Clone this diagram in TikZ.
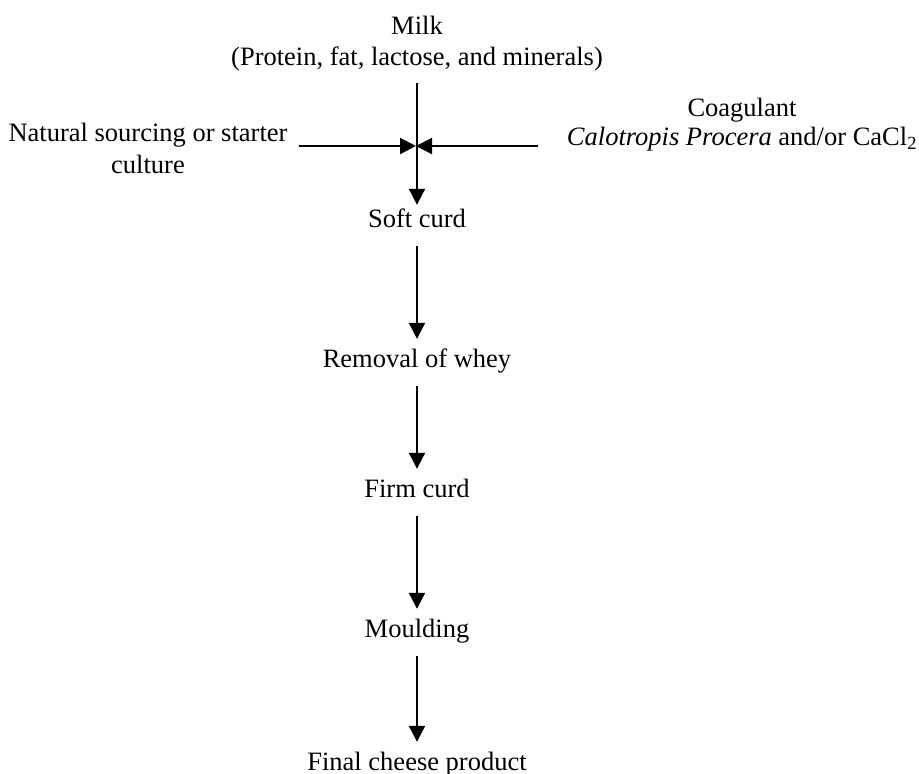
\documentclass[tikz,border=0pt]{standalone}
\usepackage{fontspec}
\setmainfont{Liberation Serif}
\usepackage{tikz}
\usetikzlibrary{positioning, arrows.meta}

\begin{document}
\begin{tikzpicture}[x=1pt, y=-1pt,
	source/.style={inner sep=0pt, align=center, font=\fontsize{26.5}{31}\selectfont},
	stage/.style={inner sep=0pt, text height=18pt, text depth=6pt, font=\fontsize{26.5}{31}\selectfont},
	flow/.style={-{Triangle[length=16pt, width=16pt]}, line width=2.2pt}]
	\useasboundingbox (0,0) rectangle (919,774);
	
	% Inputs
	\node[source] (milk) at (417,43.5) {Milk\\(Protein, fat, lactose, and minerals)};
	\node[source, font=\fontsize{26.5}{32}\selectfont] (natural) at (148,148) {Natural sourcing or starter\\culture};
	\node[source, font=\fontsize{26.5}{29}\selectfont] (coag) at (742,124.5) {Coagulant\\\textit{Calotropis Procera} and/or CaCl\textsubscript{2}};
	\coordinate (join) at (417,146);
	
	% Process steps
	\node[stage, anchor=base] (soft) at (417,227) {Soft curd};
	\node[stage, anchor=base] (whey) at (417,367) {Removal of whey};
	\node[stage, anchor=base] (firm) at (417,497) {Firm curd};
	\node[stage, anchor=base] (mould) at (417,637) {Moulding};
	\node[stage, anchor=base] (final) at (417,770) {Final cheese product};
	
	% Connections
	\draw[flow, shorten <=12pt, shorten >=4pt] (milk.south) -- (soft.north);
	\draw[flow, shorten <=11pt, shorten >=1pt] (natural.east |- join) -- (join);
	\draw[flow, shorten <=29pt, shorten >=-1pt] (coag.west |- join) -- (join);
	
	\draw[flow, shorten <=13pt, shorten >=10pt] (soft) -- (whey);
	\draw[flow, shorten <=13pt, shorten >=10pt] (whey) -- (firm);
	\draw[flow, shorten <=13pt, shorten >=10pt] (firm) -- (mould);
	\draw[flow, shorten <=13pt, shorten >=10pt] (mould) -- (final);
\end{tikzpicture}
\end{document}
